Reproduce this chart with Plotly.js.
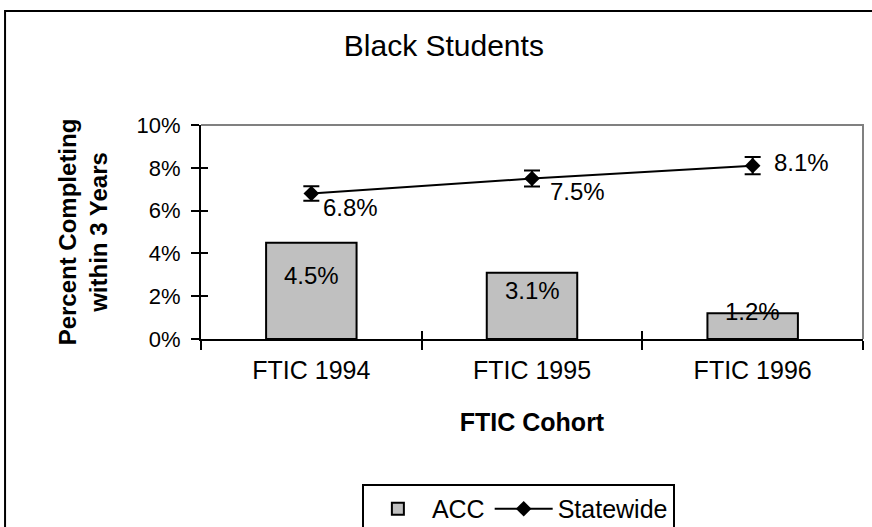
<!DOCTYPE html>
<html>
<head>
<meta charset="utf-8">
<script src="https://cdn.plot.ly/plotly-3.0.1.min.js"></script>
<style>html,body{margin:0;padding:0;background:#fff;}#chart{width:872px;height:527px;}</style>
</head>
<body>
<div id="chart"></div>
<script>
// Data
const cohorts = ['FTIC 1994', 'FTIC 1995', 'FTIC 1996'];
const accValues = [4.5, 3.1, 1.2];
const statewideValues = [6.8, 7.5, 8.1];
const statewideErrorPercent = 5;            // error bars: +/- 5% of value
const yTickValues = [0, 2, 4, 6, 8, 10];
const yTickLabels = ['0%', '2%', '4%', '6%', '8%', '10%'];

// label placement styles (pixel offsets from each point)
const statewideLabelXShift = [10, 16, 19];
const statewideLabelYShift = [-14, -13, 3];

const FONT = '"Liberation Sans", Arial, Helvetica, sans-serif';
const fmt = v => v.toFixed(1) + '%';

const traces = [
  {
    type: 'bar', name: 'ACC', x: cohorts, y: accValues,
    marker: {color: '#C0C0C0', line: {color: '#000', width: 2}},
    hoverinfo: 'skip'
  },
  {
    type: 'scatter', mode: 'lines+markers', name: 'Statewide',
    x: cohorts, y: statewideValues,
    line: {color: '#000', width: 2},
    marker: {symbol: 'diamond', size: 12, color: '#000'},
    error_y: {type: 'percent', value: statewideErrorPercent, color: '#000', thickness: 2, width: 8},
    cliponaxis: false,
    hoverinfo: 'skip'
  },
  {
    // invisible companion trace so the overlay axes (crossing ticks) get drawn
    type: 'scatter', mode: 'markers', x: cohorts, y: statewideValues,
    xaxis: 'x2', yaxis: 'y2', marker: {opacity: 0}, showlegend: false, hoverinfo: 'skip'
  }
];

const barLabels = cohorts.map((c, i) => ({
  x: c, y: accValues[i] / 2, xref: 'x', yref: 'y',
  text: fmt(accValues[i]), showarrow: false, yshift: 15,
  font: {family: FONT, size: 24, color: '#000'}
}));
const lineLabels = cohorts.map((c, i) => ({
  x: c, y: statewideValues[i], xref: 'x', yref: 'y',
  text: fmt(statewideValues[i]), showarrow: false,
  xanchor: 'left', yanchor: 'middle',
  xshift: statewideLabelXShift[i], yshift: statewideLabelYShift[i],
  font: {family: FONT, size: 24, color: '#000'}
}));

const layout = {
  width: 872, height: 527,
  margin: {l: 201, r: 9, t: 125, b: 188},
  paper_bgcolor: '#fff', plot_bgcolor: '#fff',
  font: {family: FONT, color: '#000'},
  showlegend: true,
  bargap: 0.59,
  title: {
    text: 'Black Students', font: {family: FONT, size: 30, color: '#000'},
    x: 0.509, xref: 'container', xanchor: 'center', y: 0.913, yref: 'container', yanchor: 'middle'
  },
  xaxis: {
    type: 'category', range: [-0.5, 2.5], tickson: 'boundaries',
    ticks: 'outside', ticklen: 9, tickwidth: 2, tickcolor: '#000',
    showline: true, linecolor: '#000', linewidth: 2, showgrid: false,
    tickfont: {family: FONT, size: 25, color: '#000'},
    ticklabelstandoff: 8,
    title: {text: 'FTIC Cohort', font: {family: FONT, size: 25, color: '#000', weight: 'bold'}, standoff: 30},
    fixedrange: true
  },
  yaxis: {
    range: [0, 10], tickvals: yTickValues, ticktext: yTickLabels,
    ticks: 'outside', ticklen: 8, tickwidth: 2, tickcolor: '#000',
    showline: true, linecolor: '#000', linewidth: 2, showgrid: false, zeroline: false,
    tickfont: {family: FONT, size: 22, color: '#000'},
    ticklabelstandoff: 6,
    title: {text: 'Percent Completing<br>within 3 Years', font: {family: FONT, size: 24, color: '#000', weight: 'bold'}, standoff: 22},
    fixedrange: true
  },
  xaxis2: {
    type: 'category', overlaying: 'x', anchor: 'y2', range: [-0.5, 2.5], tickson: 'boundaries',
    ticks: 'inside', ticklen: 8, tickwidth: 2, tickcolor: '#000',
    showticklabels: false, showline: false, showgrid: false, fixedrange: true
  },
  yaxis2: {
    overlaying: 'y', anchor: 'x2', side: 'left', range: [0, 10], tickvals: yTickValues,
    ticks: 'inside', ticklen: 7, tickwidth: 2, tickcolor: '#000',
    showticklabels: false, showline: false, showgrid: false, zeroline: false, fixedrange: true
  },
  legend: {
    orientation: 'h', x: 0.415, xref: 'container', xanchor: 'left',
    y: 0.0816, yref: 'container', yanchor: 'top',
    bgcolor: '#fff', bordercolor: '#000', borderwidth: 2,
    itemwidth: 58,
    font: {family: FONT, size: 25, color: '#000'}
  },
  annotations: barLabels.concat(lineLabels),
  shapes: [
    {type: 'path', xref: 'paper', yref: 'paper', path: 'M0,1 L1,1 L1,0',
     line: {color: '#808080', width: 2}},
    {type: 'rect', xref: 'paper', yref: 'paper', x0: -0.296, x1: 1.02, y0: -0.9, y1: 1.533,
     line: {color: '#000', width: 2}, fillcolor: 'rgba(0,0,0,0)'}
  ]
};

Plotly.newPlot('chart', traces, layout, {displayModeBar: false, staticPlot: true});
</script>
</body>
</html>
